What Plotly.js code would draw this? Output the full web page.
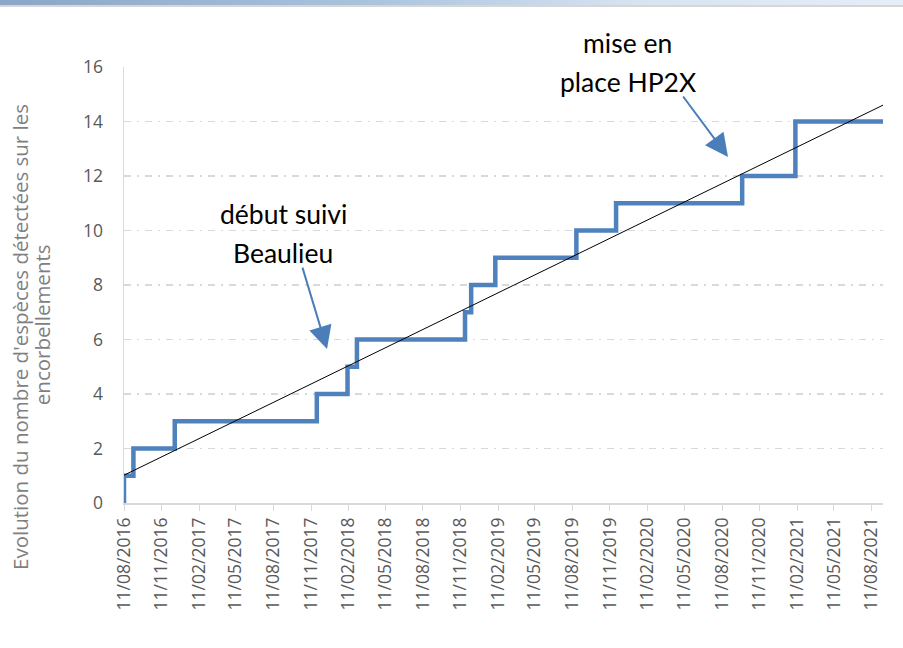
<!DOCTYPE html>
<html>
<head>
<meta charset="utf-8">
<script src="https://cdn.plot.ly/plotly-3.0.1.min.js"></script>
<style>
  html, body { margin: 0; padding: 0; background: #ffffff; }
  #wrap { position: relative; width: 903px; height: 648px; }
  #chart { width: 903px; height: 648px; }
  #band { position: absolute; left: 0; top: 0; width: 903px; height: 5px;
          background: linear-gradient(to right, #8ba6c6 0%, #a9c2dc 40%, #d6e3f1 70%, #e6eef7 100%);
          border-bottom: 2px solid #d6d6d6; pointer-events: none; }
</style>
</head>
<body>
<div id="wrap">
  <div id="chart"></div>
  <div id="band"></div>
</div>
<script>
// Step series: date of each new species detection and cumulative count
const stepDates = ['2016-08-11', '2016-08-11', '2016-09-03', '2016-12-13', '2017-11-25',
                   '2018-02-08', '2018-03-03', '2018-11-22', '2018-12-07', '2019-02-04',
                   '2019-08-21', '2019-11-26', '2020-09-29', '2021-02-06', '2021-09-08'];
const stepCounts = [0, 1, 2, 3, 4, 5, 6, 7, 8, 9, 10, 11, 12, 14, 14];

// Linear trend line (start and end)
const trendDates = ['2016-08-11', '2021-09-08'];
const trendValues = [1.02, 14.6];

// Axis ticks
const tickDates = ['2016-08-11', '2016-11-11', '2017-02-11', '2017-05-11', '2017-08-11',
                   '2017-11-11', '2018-02-11', '2018-05-11', '2018-08-11', '2018-11-11',
                   '2019-02-11', '2019-05-11', '2019-08-11', '2019-11-11', '2020-02-11',
                   '2020-05-11', '2020-08-11', '2020-11-11', '2021-02-11', '2021-05-11',
                   '2021-08-11'];
const xRange = ['2016-08-11', '2021-09-08'];
const yTicks = [0, 2, 4, 6, 8, 10, 12, 14, 16];

const yTitleLines = ["Evolution du nombre d'espèces détectées sur les", "encorbellements"];
const noteStart = ['début suivi', 'Beaulieu'];
const noteHP2X = ['mise en', 'place HP2X'];

const traces = [
  {
    x: stepDates, y: stepCounts, type: 'scatter', mode: 'lines',
    line: { shape: 'hv', color: '#4f81bd', width: 4.5 },
    hoverinfo: 'skip', showlegend: false
  },
  {
    x: trendDates, y: trendValues, type: 'scatter', mode: 'lines',
    line: { color: '#000000', width: 1 },
    hoverinfo: 'skip', showlegend: false
  }
];

const gridStyle = '7px,6px,2px,6px';
const noteFont = { family: 'Lato, "Noto Sans", sans-serif', size: 26.5, color: '#000000' };
const titleFont = { family: '"Open Sans", sans-serif', size: 20.5, color: '#7f7f7f' };
const tickFont = { family: '"Open Sans", sans-serif', size: 17.5, color: '#595959' };
const arrowColor = '#4a7ebb';

const layout = {
  width: 903, height: 648,
  margin: { l: 124, r: 20, t: 67, b: 145 },
  paper_bgcolor: '#ffffff', plot_bgcolor: '#ffffff',
  showlegend: false,
  xaxis: {
    type: 'date', range: xRange,
    tickmode: 'array', tickvals: tickDates, tickformat: '%d/%m/%Y',
    tickangle: -90,
    tickfont: tickFont,
    ticks: 'outside', ticklen: 6, tickcolor: '#d9d9d9', tickwidth: 1,
    showgrid: false, zeroline: false,
    showline: true, linecolor: '#d9d9d9', linewidth: 1.5
  },
  yaxis: {
    range: [0, 16], tickmode: 'array', tickvals: yTicks,
    tickfont: tickFont,
    ticks: '', ticklabelstandoff: 16,
    showgrid: true, gridcolor: '#d9d9d9', gridwidth: 1.5, griddash: gridStyle,
    zeroline: false,
    showline: true, linecolor: '#d9d9d9', linewidth: 1.5
  },
  annotations: [
    { text: yTitleLines[0], xref: 'paper', yref: 'paper',
      x: -0.137, y: 0.381, xanchor: 'center', yanchor: 'middle', textangle: -90,
      showarrow: false, font: titleFont },
    { text: yTitleLines[1], xref: 'paper', yref: 'paper',
      x: -0.108, y: 0.408, xanchor: 'center', yanchor: 'middle', textangle: -90,
      showarrow: false, font: titleFont },
    { text: noteStart[0], xref: 'paper', yref: 'paper', x: 0.2095, y: 0.662,
      xanchor: 'center', yanchor: 'middle', showarrow: false, font: noteFont },
    { text: noteStart[1], xref: 'paper', yref: 'paper', x: 0.2095, y: 0.5734,
      xanchor: 'center', yanchor: 'middle', showarrow: false, font: noteFont },
    { text: noteHP2X[0], xref: 'paper', yref: 'paper', x: 0.664, y: 1.055,
      xanchor: 'center', yanchor: 'middle', showarrow: false, font: noteFont },
    { text: noteHP2X[1], xref: 'paper', yref: 'paper', x: 0.664, y: 0.965,
      xanchor: 'center', yanchor: 'middle', showarrow: false, font: noteFont },
    { text: '', xref: 'paper', yref: 'paper', x: 0.2675, y: 0.353,
      showarrow: true, ax: -25, ay: -83, arrowhead: 2, arrowsize: 2.3, arrowwidth: 2,
      arrowcolor: arrowColor },
    { text: '', xref: 'paper', yref: 'paper', x: 0.7958, y: 0.7936,
      showarrow: true, ax: -46, ay: -62, arrowhead: 2, arrowsize: 2.3, arrowwidth: 2,
      arrowcolor: arrowColor }
  ]
};

Plotly.newPlot('chart', traces, layout, { staticPlot: true, displayModeBar: false });
</script>
</body>
</html>
